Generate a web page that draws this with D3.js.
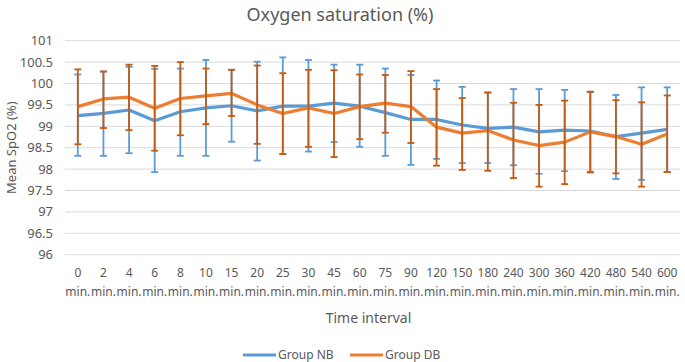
<!DOCTYPE html>
<html>
<head>
<meta charset="utf-8">
<script src="https://cdn.jsdelivr.net/npm/d3@7"></script>
<style>
  body { margin: 0; background: #fff; }
  svg text { font-family: "Noto Sans", "Open Sans", sans-serif; fill: #595959; }
</style>
</head>
<body>
<div id="chart"></div>
<script>
// categories (minutes)
var times = ["0","2","4","6","8","10","15","20","25","30","45","60","75","90","120","150","180","240","300","360","420","480","540","600"];
var yTicks = [96, 96.5, 97, 97.5, 98, 98.5, 99, 99.5, 100, 100.5, 101];

// Group NB: mean, upper, lower
var nbMean = [99.25,99.30,99.38,99.13,99.34,99.43,99.48,99.36,99.47,99.47,99.54,99.47,99.32,99.16,99.16,99.03,98.95,98.98,98.87,98.91,98.89,98.76,98.84,98.93];
var nbHigh = [100.21,100.28,100.39,100.34,100.35,100.55,100.32,100.51,100.61,100.55,100.44,100.44,100.35,100.20,100.07,99.92,99.79,99.87,99.87,99.85,99.80,99.73,99.91,99.91];
var nbLow  = [98.31,98.31,98.37,97.93,98.31,98.31,98.64,98.20,98.35,98.41,98.63,98.52,98.31,98.10,98.24,98.14,98.14,98.09,97.89,97.95,97.94,97.77,97.75,97.93];

// Group DB: mean, upper, lower
var dbMean = [99.46,99.64,99.68,99.42,99.65,99.71,99.77,99.50,99.30,99.43,99.30,99.46,99.54,99.46,98.98,98.84,98.90,98.68,98.55,98.63,98.87,98.76,98.58,98.82];
var dbHigh = [100.33,100.28,100.44,100.41,100.50,100.35,100.32,100.42,100.24,100.32,100.31,100.21,100.20,100.29,99.87,99.66,99.79,99.55,99.50,99.60,99.81,99.61,99.56,99.72];
var dbLow  = [98.58,98.96,98.91,98.43,98.79,99.05,99.24,98.59,98.35,98.52,98.28,98.70,98.85,98.61,98.08,97.98,97.96,97.79,97.59,97.65,97.92,97.90,97.59,97.93];

var W = 685, H = 362;
var margin = {top: 40.7, right: 5, bottom: 107.3, left: 65};
var width = W - margin.left - margin.right;
var height = H - margin.top - margin.bottom;

var svg = d3.select('#chart').append('svg')
    .attr('width', W)
    .attr('height', H);

var x = d3.scaleBand().domain(times).range([0, width]).padding(0);
var y = d3.scaleLinear().domain([96, 101]).range([height, 0]);

var g = svg.append('g')
    .attr('transform', 'translate(' + margin.left + ',' + margin.top + ')');

// gridlines
g.append('g').selectAll('line')
    .data(yTicks).enter().append('line')
    .attr('x1', 0).attr('x2', width)
    .attr('y1', function(d){ return y(d); })
    .attr('y2', function(d){ return y(d); })
    .attr('stroke', '#d9d9d9')
    .attr('stroke-width', 1);

// y axis labels
g.append('g').selectAll('text')
    .data(yTicks).enter().append('text')
    .attr('x', -12)
    .attr('y', function(d){ return y(d); })
    .attr('dy', '0.35em')
    .attr('text-anchor', 'end')
    .attr('font-size', 13)
    .text(function(d){ return d; });

// x axis labels
var xl = g.append('g').selectAll('text')
    .data(times).enter().append('text')
    .attr('text-anchor', 'middle')
    .attr('font-size', 12)
    .attr('transform', function(d){ return 'translate(' + (x(d) + x.bandwidth()/2) + ',' + (height + 22) + ')'; });
xl.append('tspan').attr('x', 0).attr('y', 0).text(function(d){ return d; });
xl.append('tspan').attr('x', 0).attr('y', 19).text('min.');

var series = [
    {name: 'Group NB', mean: nbMean, high: nbHigh, low: nbLow, color: '#5b9bd5', err: '#5b9bd5'},
    {name: 'Group DB', mean: dbMean, high: dbHigh, low: dbLow, color: '#ed7d31', err: '#c55a11'}
];

var cx = function(i){ return x(times[i]) + x.bandwidth()/2; };
var line = d3.line()
    .x(function(d, i){ return cx(i); })
    .y(function(d){ return y(d); });

series.forEach(function(s){
    g.append('path')
        .datum(s.mean)
        .attr('fill', 'none')
        .attr('stroke', s.color)
        .attr('stroke-width', 3.2)
        .attr('stroke-linejoin', 'round')
        .attr('d', line);

    var eb = g.append('g').selectAll('g')
        .data(s.mean).enter().append('g');
    eb.append('line')
        .attr('x1', function(d, i){ return cx(i); })
        .attr('x2', function(d, i){ return cx(i); })
        .attr('y1', function(d, i){ return y(s.high[i]); })
        .attr('y2', function(d, i){ return y(s.low[i]); })
        .attr('stroke', s.err).attr('stroke-width', 1.8);
    [s.high, s.low].forEach(function(arr){
        eb.append('line')
            .attr('x1', function(d, i){ return cx(i) - 3.5; })
            .attr('x2', function(d, i){ return cx(i) + 3.5; })
            .attr('y1', function(d, i){ return y(arr[i]); })
            .attr('y2', function(d, i){ return y(arr[i]); })
            .attr('stroke', s.err).attr('stroke-width', 1.8);
    });
});

// title and axis titles
svg.append('text')
    .attr('x', 340).attr('y', 21)
    .attr('text-anchor', 'middle')
    .attr('font-size', 18)
    .text('Oxygen saturation (%)');

svg.append('text')
    .attr('transform', 'translate(16,' + (margin.top + height/2) + ') rotate(-90)')
    .attr('text-anchor', 'middle')
    .attr('font-size', 13)
    .text('Mean SpO2 (%)');

svg.append('text')
    .attr('x', margin.left + width/2 - 4).attr('y', 323)
    .attr('text-anchor', 'middle')
    .attr('font-size', 14)
    .text('Time interval');

// legend
var legend = svg.append('g').selectAll('g')
    .data(series).enter().append('g')
    .attr('transform', function(d, i){ return 'translate(' + (243 + i * 107) + ',355)'; });
legend.append('line')
    .attr('x1', 0).attr('x2', 33)
    .attr('stroke', function(d){ return d.color; })
    .attr('stroke-width', 3.2);
legend.append('text')
    .attr('x', 35).attr('dy', '0.35em')
    .attr('font-size', 12)
    .text(function(d){ return d.name; });
</script>
</body>
</html>
